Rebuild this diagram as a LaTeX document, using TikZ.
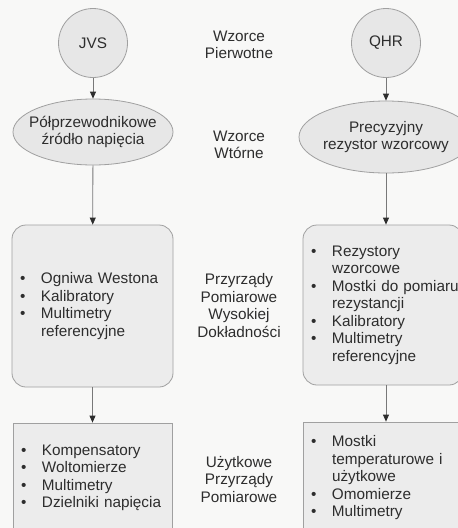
\documentclass[tikz,border=0pt]{standalone}
\usepackage{fontspec}
\setmainfont{Liberation Sans}
\usepackage{tikz}
\usetikzlibrary{arrows.meta, positioning, shapes.geometric}
\usepackage{xcolor}
\definecolor{paper}{RGB}{248,248,247}
\definecolor{nodefill}{RGB}{231,231,231}
\definecolor{boxfill}{RGB}{236,236,236}
\definecolor{edge}{RGB}{160,160,160}
\definecolor{ink}{RGB}{45,45,45}
\definecolor{linkgray}{RGB}{120,120,120}
\newcommand{\itm}[1]{\makebox[21pt][l]{\textbullet}\mbox{#1}}
\newcommand{\cnt}[1]{\hspace*{21pt}\mbox{#1}}

\begin{document}
\begin{tikzpicture}[x=1pt, y=-1pt,
    txt/.style={font=\fontsize{15.3}{17.5}\selectfont, text=ink},
    circ/.style={txt, circle, draw=edge, fill=nodefill, line width=0.8pt, minimum size=69pt, inner sep=0pt},
    ell/.style={ellipse, draw=edge, fill=nodefill, line width=0.8pt, inner sep=0pt},
    inside/.style={txt, align=center},
    listbox/.style={txt, draw=edge, fill=boxfill, line width=0.8pt, align=left, inner xsep=8pt, inner ysep=0pt},
    level/.style={txt, align=center},
    link/.style={linkgray, line width=0.8pt, -{Triangle[length=7pt, width=6pt, color=ink]}}]
  \useasboundingbox (0,0) rectangle (458,528);
  \clip (0,0) rectangle (458,528);
  \fill[paper] (0,0) rectangle (458,528);
  % primary standards
  \node[circ] (jvs) at (93,43) {JVS};
  \node[circ] (qhr) at (386,43) {QHR};
  % secondary standards
  \node[ell, minimum width=160pt, minimum height=66pt,
    label={[inside]center:Półprzewodnikowe\\źródło napięcia}] (semi) at (93,132) {};
  \node[ell, minimum width=174pt, minimum height=72pt,
    label={[inside]center:Precyzyjny\\rezystor wzorcowy}] (resist) at (386,137) {};
  % high accuracy instruments
  \node[listbox, rounded corners=14pt, text width=145pt, minimum height=162pt] (hiV) at (92.5,306)
    {\itm{Ogniwa Westona}\\\itm{Kalibratory}\\\itm{Multimetry}\\\cnt{referencyjne}};
  \node[listbox, rounded corners=14pt, text width=144pt, minimum height=160pt] (hiR) at (383,305)
    {\itm{Rezystory}\\\cnt{wzorcowe}\\\itm{Mostki do pomiaru}\\\cnt{rezystancji}\\\itm{Kalibratory}\\\itm{Multimetry}\\\cnt{referencyjne}};
  % everyday instruments
  \node[listbox, text width=143pt, minimum height=110pt] (useV) at (92.5,478)
    {\itm{Kompensatory}\\\itm{Woltomierze}\\\itm{Multimetry}\\\itm{Dzielniki napięcia}};
  \node[listbox, text width=144pt, minimum height=112pt] (useR) at (383,478)
    {\itm{Mostki}\\\cnt{temperaturowe i}\\\cnt{użytkowe}\\\itm{Omomierze}\\\itm{Multimetry}};
  % level labels
  \node[level] (lvA) at (239,45) {Wzorce\\Pierwotne};
  \node[level] (lvB) at (239,145) {Wzorce\\Wtórne};
  \node[level] (lvC) at (239,305.5) {Przyrządy\\Pomiarowe\\Wysokiej\\Dokładności};
  \node[level] (lvD) at (239,479.5) {Użytkowe\\Przyrządy\\Pomiarowe};
  % arrows
  \draw[link] (jvs) -- (semi);
  \draw[link] (semi) -- (hiV);
  \draw[link] (hiV) -- (useV);
  \draw[link] (qhr) -- (resist);
  \draw[link] (resist.south) -- (resist.south |- hiR.north);
  \draw[link] (hiR.south -| resist.south) -- (resist.south |- useR.north);
\end{tikzpicture}
\end{document}
